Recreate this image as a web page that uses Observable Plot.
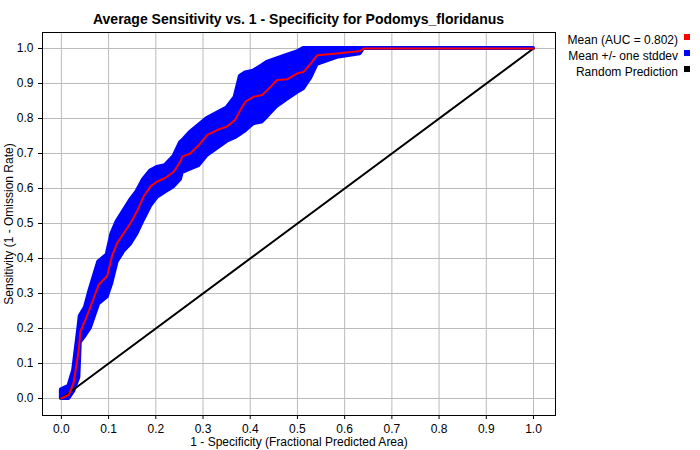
<!DOCTYPE html>
<html>
<head>
<meta charset="utf-8">
<script src="https://cdn.jsdelivr.net/npm/d3@7"></script>
<script src="https://cdn.jsdelivr.net/npm/@observablehq/plot@0.6"></script>
<style>
body { margin: 0; font-family: "Liberation Sans", Arial, sans-serif; }
#wrap { position: relative; width: 700px; height: 450px; }
#title { position: absolute; top: 11px; left: 42px; width: 513px; text-align: center; font-weight: bold; font-size: 14px; }
#legend { position: absolute; top: 32px; right: 10px; font-size: 12px; line-height: 16px; text-align: right; }
#legend span.sw { display: inline-block; width: 6px; height: 6px; margin-left: 6px; vertical-align: 4px; }
</style>
</head>
<body>
<div id="wrap">
  <div id="chart"></div>
  <div id="title">Average Sensitivity vs. 1 - Specificity for Podomys_floridanus</div>
  <div id="legend">
    <div>Mean (AUC = 0.802)<span class="sw" style="background:#ff0000"></span></div>
    <div>Mean +/- one stddev<span class="sw" style="background:#0000ff"></span></div>
    <div>Random Prediction<span class="sw" style="background:#000"></span></div>
  </div>
</div>
<script>
// courbe moyenne
const fpr = [0, 0.016, 0.026, 0.037, 0.04, 0.051, 0.061, 0.079, 0.097, 0.107, 0.118, 0.132, 0.146, 0.16, 0.174, 0.189, 0.203, 0.22, 0.238, 0.252, 0.256, 0.273, 0.291, 0.309, 0.33, 0.351, 0.368, 0.379, 0.39, 0.407, 0.425, 0.436, 0.457, 0.478, 0.5, 0.513, 0.528, 0.542, 0.584, 0.633, 0.64, 1];
const meanTpr = [0, 0.011, 0.045, 0.14, 0.19, 0.225, 0.26, 0.325, 0.35, 0.406, 0.444, 0.472, 0.5, 0.534, 0.577, 0.606, 0.62, 0.63, 0.648, 0.677, 0.691, 0.7, 0.724, 0.753, 0.767, 0.777, 0.796, 0.824, 0.848, 0.862, 0.867, 0.881, 0.91, 0.912, 0.929, 0.933, 0.957, 0.981, 0.986, 0.993, 1, 1];
const hiTpr = [0.025, 0.035, 0.08, 0.2, 0.235, 0.26, 0.31, 0.39, 0.41, 0.47, 0.505, 0.535, 0.565, 0.59, 0.625, 0.65, 0.66, 0.665, 0.69, 0.73, 0.735, 0.76, 0.78, 0.8, 0.815, 0.83, 0.86, 0.92, 0.93, 0.935, 0.95, 0.96, 0.97, 0.98, 0.99, 1, 1, 1, 1, 1, 1, 1];
const loTpr = [0, 0, 0.02, 0.06, 0.16, 0.18, 0.2, 0.27, 0.29, 0.33, 0.39, 0.42, 0.44, 0.47, 0.51, 0.55, 0.575, 0.59, 0.605, 0.625, 0.645, 0.655, 0.665, 0.695, 0.715, 0.735, 0.745, 0.755, 0.765, 0.785, 0.79, 0.805, 0.835, 0.855, 0.875, 0.885, 0.915, 0.955, 0.975, 0.985, 1, 1];
const ticks = d3.range(0, 11).map(i => i / 10);

const rows = fpr.map((x, i) => ({x, y: meanTpr[i], hi: hiTpr[i], lo: loTpr[i]}));
const diag = [{x: 0, y: 0}, {x: 1, y: 1}];

const plot = Plot.plot({
  width: 700,
  height: 450,
  marginLeft: 42,
  marginRight: 145,
  marginTop: 32,
  marginBottom: 35,
  style: {fontFamily: "Liberation Sans, Arial, sans-serif", fontSize: "12px", color: "#000"},
  x: {domain: [-0.04, 1.0466], ticks, tickFormat: d3.format(".1f"), label: "1 - Specificity (Fractional Predicted Area)", labelAnchor: "center", labelArrow: "none", labelOffset: 30, tickSize: 4},
  y: {domain: [-0.0486, 1.0457], ticks, tickFormat: d3.format(".1f"), label: "Sensitivity (1 - Omission Rate)", labelAnchor: "center", labelArrow: "none", labelOffset: 38, tickSize: 4},
  marks: [
    Plot.gridX(ticks, {stroke: "#bbb", strokeOpacity: 1}),
    Plot.gridY(ticks, {stroke: "#bbb", strokeOpacity: 1}),
    Plot.areaY(rows, {x: "x", y1: "lo", y2: "hi", fill: "#0000ff", stroke: "#0000ff", strokeWidth: 4, curve: "linear"}),
    Plot.line(diag, {x: "x", y: "y", stroke: "#000", strokeWidth: 2}),
    Plot.line(rows, {x: "x", y: "y", stroke: "#ff0000", strokeWidth: 2, curve: "linear"}),
    Plot.frame({stroke: "#000"})
  ]
});
document.getElementById("chart").appendChild(plot);
</script>
</body>
</html>
